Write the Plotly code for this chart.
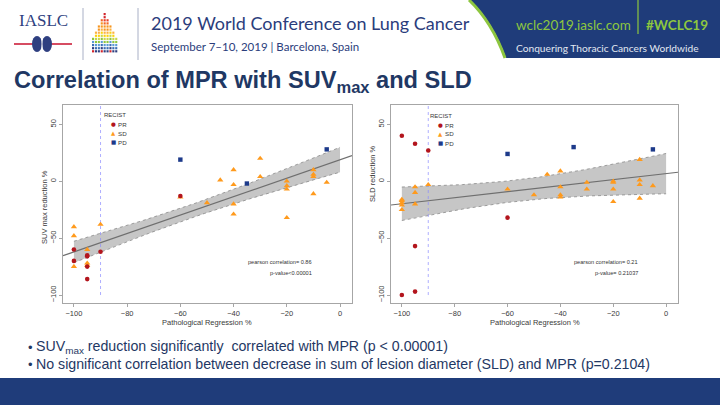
import numpy as np
import plotly.graph_objects as go

W, H = 720, 405

# ---------------- data ----------------
categories = ["PR", "SD", "PD"]  # RECIST response groups

# Left panel: SUVmax reduction % vs pathological regression %
suv_pr_x = [-100, -100, -95, -95, -95, -95, -90, -60]
suv_pr_y = [-60, -70, -65, -66, -75, -86, -62, -13]
suv_sd_x = [-100, -100, -100, -95, -95, -95, -90, -60, -50, -45, -40, -40, -40, -40,
            -30, -30, -20, -20, -20, -20, -10, -10, -10, -10, -5]
suv_sd_y = [-40, -48, -75, -60, -72, -74, -38, -14, -19, 1, 10, -3, -20, -29,
            20, 4, 0, -4, -7, -32, 10, 6, 4, -11, -1]
suv_pd_x = [-60, -35, -5]
suv_pd_y = [19, -2, 28]

# Right panel: SLD reduction % vs pathological regression %
sld_pr_x = [-100, -95, -90, -60, -95, -100, -95]
sld_pr_y = [40, 33, 27, -32, -57, -100, -97]
sld_sd_x = [-100, -100, -100, -100, -100, -95, -95, -95, -90, -60, -50, -45, -40, -40,
            -40, -40, -30, -30, -20, -20, -20, -20, -10, -10, -10, -10, -5]
sld_sd_y = [-16, -17, -19, -21, -25, -5, -10, -20, -3, -7, -12, 6, 9, -5,
            -12, -14, -1, -7, 0, -1, -7, -18, 19, 1, -3, -15, -4]
sld_pd_x = [-60, -35, -5]
sld_pd_y = [24, 30, 28]

x_ticks = [-100, -80, -60, -40, -20, 0]
y_ticks = [-100, -50, 0, 50]
fit_range = [-100, 0]
mpr_cut = -90

left_stats = ["pearson correlation= 0.86", "p-value<0.00001"]
right_stats = ["pearson correlation= 0.21", "p-value= 0.21037"]

bullets = [
    "SUV<sub>max</sub> reduction significantly  correlated with MPR (p < 0.00001)",
    "No significant correlation between decrease in sum of lesion diameter (SLD) and MPR (p=0.2104)",
]

# ---------------- style ----------------
C_PR, C_SD, C_PD = "#b3151d", "#ff9a1c", "#1d3a8a"
NAVY = "#1f3864"
HEAD_BLUE = "#1f3c7a"
GREEN = "#8dc63f"
XR = [-104.1, 4.5]
YR = [-107, 67]
FONT = "Liberation Sans, Arial, sans-serif"


def px(x):
    return x / W


def py(y):
    return 1 - y / H


def fit_ci(x, y, grid, t=2.03):
    x = np.asarray(x, float)
    y = np.asarray(y, float)
    n = len(x)
    b, a = np.polyfit(x, y, 1)
    s = np.sqrt(np.sum((y - (a + b * x)) ** 2) / (n - 2))
    xm = x.mean()
    sxx = np.sum((x - xm) ** 2)
    g = np.asarray(grid, float)
    yhat = a + b * g
    se = s * np.sqrt(1.0 / n + (g - xm) ** 2 / sxx)
    return a, b, yhat - t * se, yhat + t * se


fig = go.Figure()

panels = [
    dict(xa="x", ya="y", pr=(suv_pr_x, suv_pr_y), sd=(suv_sd_x, suv_sd_y),
         pd=(suv_pd_x, suv_pd_y)),
    dict(xa="x2", ya="y2", pr=(sld_pr_x, sld_pr_y), sd=(sld_sd_x, sld_sd_y),
         pd=(sld_pd_x, sld_pd_y)),
]

grid = np.linspace(fit_range[0], fit_range[1], 101)
for p in panels:
    allx = p["pr"][0] + p["sd"][0] + p["pd"][0]
    ally = p["pr"][1] + p["sd"][1] + p["pd"][1]
    a, b, lo, hi = fit_ci(allx, ally, grid)
    ax = dict(xaxis=p["xa"], yaxis=p["ya"], showlegend=False, hoverinfo="skip")
    fig.add_trace(go.Scatter(x=np.concatenate([grid, grid[::-1]]),
                             y=np.concatenate([hi, lo[::-1]]), fill="toself",
                             fillcolor="#c6c6c6", line=dict(width=0), mode="lines", **ax))
    for edge in (lo, hi):
        fig.add_trace(go.Scatter(x=grid, y=edge, mode="lines",
                                 line=dict(color="#8a8a8a", width=0.8, dash="dot"), **ax))
    lx = np.array(XR)
    fig.add_trace(go.Scatter(x=lx, y=a + b * lx, mode="lines",
                             line=dict(color="#6f6f6f", width=1.2), **ax))
    fig.add_trace(go.Scatter(x=[mpr_cut, mpr_cut], y=[y_ticks[0], YR[1]], mode="lines",
                             line=dict(color="#8c8cff", width=0.7, dash="dot"), **ax))
    fig.add_trace(go.Scatter(x=p["sd"][0], y=p["sd"][1], mode="markers",
                             marker=dict(symbol="triangle-up", size=5.5, color=C_SD), **ax))
    fig.add_trace(go.Scatter(x=p["pr"][0], y=p["pr"][1], mode="markers",
                             marker=dict(symbol="circle", size=4.6, color=C_PR), **ax))
    fig.add_trace(go.Scatter(x=p["pd"][0], y=p["pd"][1], mode="markers",
                             marker=dict(symbol="square", size=4.4, color=C_PD), **ax))

axis_common = dict(showline=True, mirror=True, linecolor="#a6a6a6", linewidth=1,
                   ticks="outside", ticklen=3, tickcolor="#a6a6a6", tickwidth=1,
                   showgrid=False, zeroline=False,
                   tickfont=dict(family=FONT, size=7.5, color="#3a3a3a"))
ydom = [py(303), py(105)]
fig.update_layout(
    xaxis=dict(domain=[px(63), px(352)], range=XR, tickvals=x_ticks, anchor="y", **axis_common),
    yaxis=dict(domain=ydom, range=YR, tickvals=y_ticks, tickangle=-90, anchor="x", **axis_common),
    xaxis2=dict(domain=[px(391), px(678)], range=XR, tickvals=x_ticks, anchor="y2", **axis_common),
    yaxis2=dict(domain=ydom, range=YR, tickvals=y_ticks, tickangle=-90, anchor="x2", **axis_common),
)

shapes = []
ann = []


def text(x, y, s, size, color, xanchor="left", family=FONT, yanchor="middle", angle=0):
    ann.append(dict(x=px(x), y=py(y), xref="paper", yref="paper", text=s, showarrow=False,
                    xanchor=xanchor, yanchor=yanchor, textangle=angle, borderpad=0,
                    font=dict(family=family, size=size, color=color)))


# axis titles
text(207.5, 322, "Pathological Regression %", 7.5, "#3a3a3a", xanchor="center")
text(534.5, 322, "Pathological Regression %", 7.5, "#3a3a3a", xanchor="center")
text(45, 207, "SUV max reduction %", 7.5, "#3a3a3a", xanchor="center", angle=-90)
text(373, 174, "SLD reduction %", 7.5, "#3a3a3a", xanchor="center", angle=-90)

# legends (RECIST)
for lx0, mx, tx, yy in [(103, 113.5, 117, [115, 124, 133, 142]),
                         (429, 440, 444, [116, 125, 134, 143])]:
    text(lx0, yy[0], "RECIST", 6, "#3a3a3a")
    for sym, col, lab, y0 in [("●", C_PR, "PR", yy[1]), ("▲", C_SD, "SD", yy[2]),
                               ("■", C_PD, "PD", yy[3])]:
        text(mx, y0, sym, 5.5, col, xanchor="center", family="DejaVu Sans")
        text(tx, y0, lab, 6.2, "#3a3a3a")

# stats
for rx, st in [(313, left_stats), (639, right_stats)]:
    text(rx, 262, st[0], 5.6, "#333333", xanchor="right")
    text(rx, 273, st[1], 5.6, "#333333", xanchor="right")

# ---------------- slide decoration ----------------
# header blue area with green curve
shapes.append(dict(type="path", xref="paper", yref="paper",
                   path=f"M {px(470)} {py(0)} Q {px(493)} {py(22)} {px(506)} {py(58)} "
                        f"L {px(720)} {py(58)} L {px(720)} {py(0)} Z",
                   fillcolor=HEAD_BLUE, line=dict(width=0), layer="below"))
shapes.append(dict(type="path", xref="paper", yref="paper",
                   path=f"M {px(469)} {py(0)} Q {px(492)} {py(22)} {px(505)} {py(58)}",
                   line=dict(color=GREEN, width=3), layer="below"))
shapes.append(dict(type="line", xref="paper", yref="paper", x0=px(638), x1=px(638),
                   y0=py(0), y1=py(34), line=dict(color=GREEN, width=1.2)))
# bottom band
shapes.append(dict(type="rect", xref="paper", yref="paper", x0=0, x1=1, y0=0, y1=py(378),
                   fillcolor=HEAD_BLUE, line=dict(width=0), layer="below"))
# separators
for sx in (83, 138):
    shapes.append(dict(type="line", xref="paper", yref="paper", x0=px(sx), x1=px(sx),
                       y0=py(8), y1=py(60), line=dict(color="#a9b0c6", width=1)))
# IASLC lungs emblem
shapes.append(dict(type="line", xref="paper", yref="paper", x0=px(14), x1=px(72),
                   y0=py(44), y1=py(44), line=dict(color="#c8102e", width=1.5)))
for cx in (37, 47):
    shapes.append(dict(type="circle", xref="paper", yref="paper", x0=px(cx - 5), x1=px(cx + 5),
                       y0=py(52), y1=py(36), fillcolor="#2e3f80", line=dict(width=0)))
shapes.append(dict(type="line", xref="paper", yref="paper", x0=px(42), x1=px(42),
                   y0=py(36), y1=py(48), line=dict(color="white", width=1)))
# mosaic emblem
mask = ["....#....",
        "....#....",
        "...###...",
        "...###...",
        "..#####..",
        "..#####..",
        ".#######.",
        ".#######.",
        "#########",
        "#########",
        "#########",
        "#########",
        "#########"]
row_cols = ["#d2232a", "#d2232a", "#e8412c", "#f26522", "#f7941d", "#f7941d", "#fbb040",
            "#fdd20a", "#c9d64a", "#8dc63f", "#5b9bd5", "#3a6fb5", "#2e3f80"]
for r, row in enumerate(mask):
    for c, ch in enumerate(row):
        if ch == "#":
            x0 = 92 + c * 2.9
            y0 = 13 + r * 3.1
            shapes.append(dict(type="rect", xref="paper", yref="paper", x0=px(x0),
                               x1=px(x0 + 2.1), y0=py(y0 + 2.2), y1=py(y0),
                               fillcolor=row_cols[(r + (c % 3 == 0)) % len(row_cols)],
                               line=dict(width=0)))

text(43, 21, "IASLC", 17, "#2e3f80", xanchor="center", family="Liberation Serif, serif")
text(150, 23, "2019 World Conference on Lung Cancer", 18, "#2b3d7c", family="Lato, sans-serif")
text(150, 47, "September 7–10, 2019 | Barcelona, Spain", 11.5, "#2b3d7c", family="Lato, sans-serif")
text(515, 25, "wclc2019.iaslc.com", 13.5, GREEN, family="Lato, sans-serif")
text(645, 25, "<b>#WCLC19</b>", 13.5, GREEN, family="Lato, sans-serif")
text(515, 48, "Conquering Thoracic Cancers Worldwide", 10.2, "#e1e7f0", family="Lato, sans-serif")

# title and bullets
text(13, 82, "<b>Correlation of MPR with SUV<sub>max</sub> and SLD</b>", 23.6, NAVY)
for yb, s in zip([347, 364], bullets):
    text(27, yb, "•", 13, NAVY)
    text(35, yb, s, 14.2, NAVY)

fig.update_layout(width=W, height=H, margin=dict(l=0, r=0, t=0, b=0),
                  paper_bgcolor="white", plot_bgcolor="white",
                  shapes=shapes, annotations=ann, showlegend=False)

fig.write_html("out.html", config={"displayModeBar": False},
               post_script="document.body.style.margin='0';document.body.style.padding='0';")
